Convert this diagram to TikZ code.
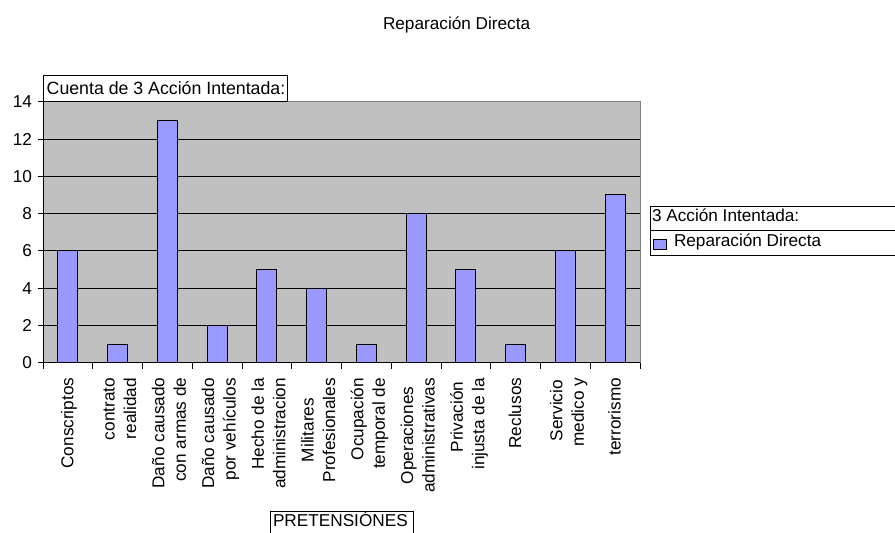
\documentclass[tikz,border=0pt]{standalone}
\usepackage{fontspec}
\setmainfont{Liberation Sans}
\definecolor{plotbg}{HTML}{C0C0C0}
\definecolor{plotborder}{HTML}{808080}
\definecolor{barfill}{HTML}{9999FF}
\tikzset{
  lbl/.style={font=\fontsize{12.9}{15}\selectfont, inner sep=0pt, outer sep=0pt},
  xlbl/.style={lbl, rotate=90, anchor=base east},
  ylbl/.style={lbl, anchor=east},
  barbox/.style={fill=barfill, draw=black, line width=0.8pt},
  gridln/.style={draw=black, line width=0.75pt},
  axisln/.style={draw=black, line width=0.75pt},
  framebox/.style={draw=black, fill=white, line width=0.75pt},
}
\begin{document}
\begin{tikzpicture}[x=0.75pt,y=-0.75pt]
\useasboundingbox (0,0) rectangle (895,532);
\fill[white] (0,0) rectangle (895,532);

% title
\node[lbl, anchor=base west] (title) at (383,29) {Reparación Directa};

% plot area
\fill[plotbg] (43,101.5) rectangle (640,362.7);
\draw[plotborder, line width=0.75pt] (43,101.5) -- (640,101.5) -- (640,362.7);
\foreach \v in {2,4,...,12} {
  \draw[gridln] (43,{362.7-18.64*\v}) -- (640,{362.7-18.64*\v});
}

% bars
\foreach \i/\v in {1/6,2/1,3/13,4/2,5/5,6/4,7/1,8/8,9/5,10/1,11/6,12/9} {
  \pgfmathsetmacro\cx{43+(\i-0.5)*49.75}
  \draw[barbox] (\cx-10,{362.7-18.64*\v}) rectangle (\cx+10,362.7);
}

% axes
\draw[axisln] (43,101.5) -- (43,362.7) -- (640,362.7);
\foreach \v in {0,2,...,14} {
  \draw[axisln] (37.5,{362.7-18.64*\v}) -- (43,{362.7-18.64*\v});
  \node[ylbl] (y\v) at (32,{362.7-18.64*\v}) {\v};
}
\foreach \k in {0,...,12} {
  \draw[axisln] ({43+49.75*\k},362.7) -- ({43+49.75*\k},368.5);
}

% category labels
\foreach \x/\t/\s [count=\n] in {
  73.4/377.7/Conscriptos,
  114.6/378/contrato, 136.1/378/realidad,
  164.4/377.5/Daño causado, 185.9/377.5/con armas de,
  214.1/378/Daño causado, 235.6/378/por vehículos,
  263.9/378/Hecho de la, 285.4/378/administracion,
  313.6/398/Militares, 335.1/378/Profesionales,
  363.4/378/Ocupación, 384.9/378/temporal de,
  413.1/386.7/Operaciones, 434.6/378/administrativas,
  462.9/381.7/Privación, 484.4/378/injusta de la,
  521.1/377.7/Reclusos,
  562.4/380/Servicio, 583.9/378/medico y,
  620.6/378/terrorismo} {
  \node[xlbl] (xl\n) at (\x,\t) {\s};
}

% count field box
\draw[framebox] (43,75) rectangle (287,101.5);
\node[lbl, anchor=base west, font=\fontsize{13.3}{15}\selectfont] (cuenta) at (46.7,94) {Cuenta de 3 Acción Intentada:};

% legend
\draw[framebox] (650,206.7) rectangle (897,255.3);
\draw[black, line width=0.75pt] (650,230.7) -- (897,230.7);
\node[lbl, anchor=base west] (leghead) at (652,221) {3 Acción Intentada:};
\draw[barbox] (653.5,239.5) rectangle (666.5,249.5);
\node[lbl, anchor=base west] (legitem) at (674,246.5) {Reparación Directa};

% axis field box
\draw[framebox] (270,511) rectangle (413,540);
\node[lbl, anchor=base west] (pret) at (273,526.7) {PRETENSIÓNES};
\end{tikzpicture}
\end{document}
